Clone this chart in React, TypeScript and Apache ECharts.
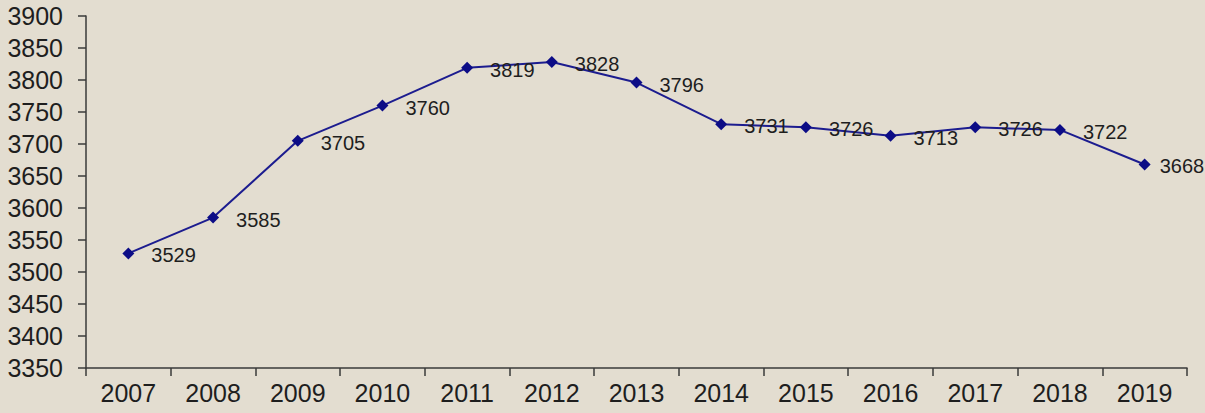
import React, { useEffect, useRef } from "react";
import * as echarts from "echarts";

const years = ["2007","2008","2009","2010","2011","2012","2013","2014","2015","2016","2017","2018","2019"];
const values = [3529, 3585, 3705, 3760, 3819, 3828, 3796, 3731, 3726, 3713, 3726, 3722, 3668];

export default function App() {
  const ref = useRef<HTMLDivElement>(null);
  useEffect(() => {
    if (!ref.current) return;
    const chart = echarts.init(ref.current, null, { renderer: "svg" });
    const seriesData = values.map((v, i) =>
      i === values.length - 1 ? { value: v, label: { distance: 9 } } : v
    );
    chart.setOption({
      animation: false,
      backgroundColor: "#e3ddd0",
      textStyle: { fontFamily: "Liberation Sans, Arial, sans-serif" },
      grid: { left: 86, right: 18, top: 16, bottom: 45 },
      xAxis: {
        type: "category",
        data: years,
        boundaryGap: true,
        axisLine: { lineStyle: { color: "#3a3a3a", width: 1.5 } },
        axisTick: { show: true, length: 8, alignWithLabel: false, lineStyle: { color: "#3a3a3a", width: 1.5 } },
        axisLabel: { color: "#1e1e1e", fontSize: 25, margin: 12, interval: 0 },
      },
      yAxis: {
        type: "value",
        min: 3350,
        max: 3900,
        interval: 50,
        axisLine: { show: true, lineStyle: { color: "#3a3a3a", width: 1.5 } },
        axisTick: { show: true, length: 8, lineStyle: { color: "#3a3a3a", width: 1.5 } },
        axisLabel: { color: "#1e1e1e", fontSize: 25, margin: 23, formatter: (v: number) => String(v) },
        splitLine: { show: false },
      },
      series: [
        {
          type: "line",
          data: seriesData,
          symbol: "diamond",
          symbolSize: 12,
          lineStyle: { color: "#1c1c8f", width: 2 },
          itemStyle: { color: "#0c0c86" },
          label: {
            show: true,
            position: "right",
            distance: 17,
            offset: [0, 2],
            color: "#1e1e1e",
            fontSize: 20,
          },
        },
      ],
    });
    return () => chart.dispose();
  }, []);
  return <div ref={ref} style={{ width: 1205, height: 413, position: "absolute", left: 0, top: 0 }} />;
}
